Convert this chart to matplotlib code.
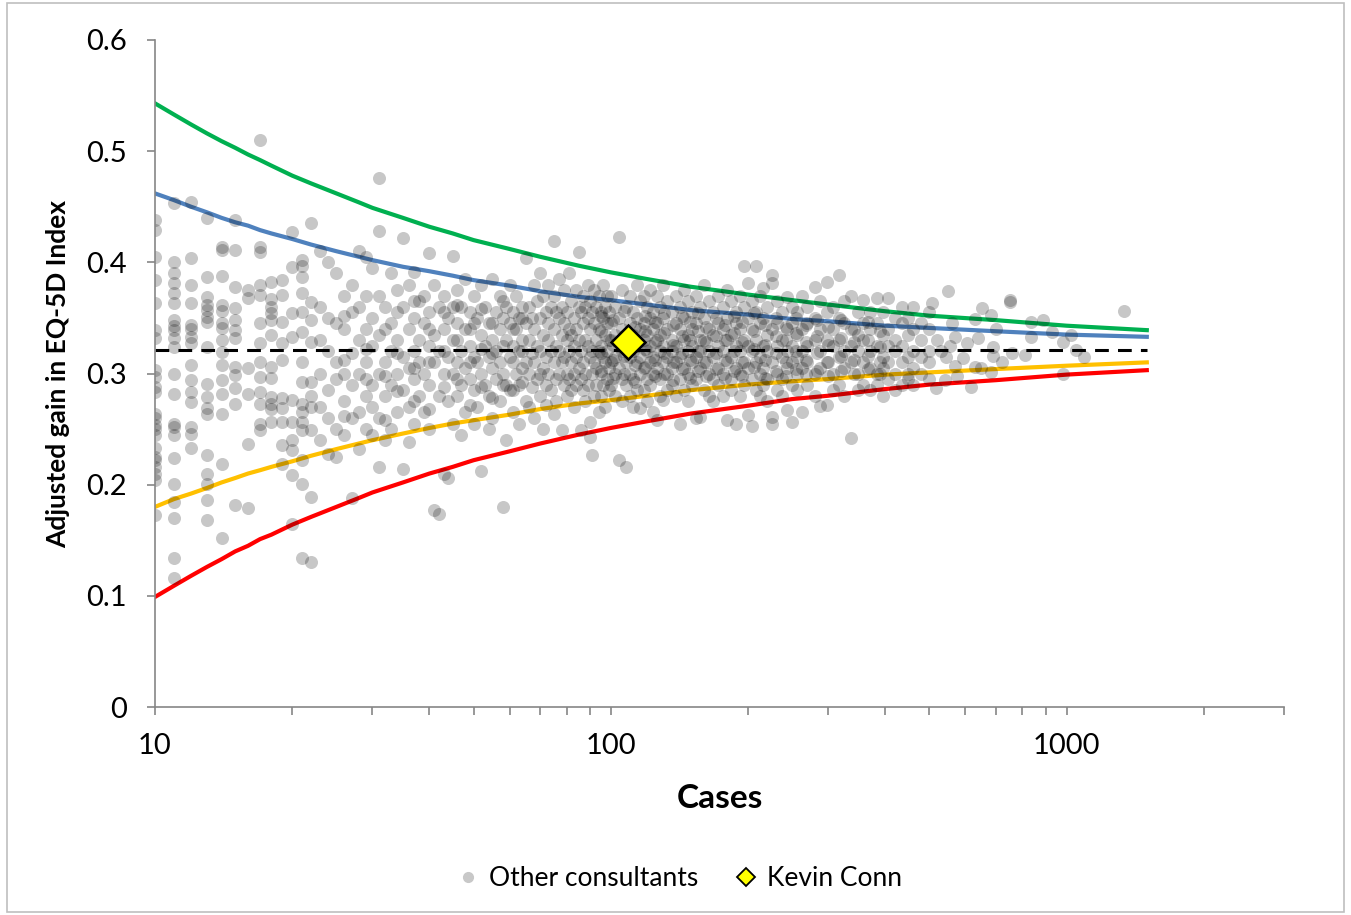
import matplotlib.pyplot as plt
from matplotlib.lines import Line2D
from matplotlib.patches import Rectangle
from matplotlib.ticker import FixedLocator, FixedFormatter, NullFormatter

plt.rcParams['font.family'] = ['Lato', 'DejaVu Sans']

# --- data ---
# small-volume consultants sit in vertical columns (one column per case count)
low_cases = [10, 11, 12, 13, 14, 15, 16, 17, 18, 19, 20, 21, 22]
low_gain = [
    [0.438, 0.429, 0.405, 0.384, 0.363, 0.339, 0.332, 0.303, 0.297, 0.288, 0.283, 0.264,
     0.26, 0.254, 0.25, 0.245, 0.233, 0.225, 0.222, 0.216, 0.21, 0.204, 0.173],
    [0.453, 0.40, 0.39, 0.381, 0.372, 0.363, 0.348, 0.343, 0.339, 0.332, 0.324, 0.3,
     0.282, 0.255, 0.252, 0.245, 0.224, 0.201, 0.184, 0.17, 0.134, 0.116],
    [0.454, 0.404, 0.38, 0.363, 0.344, 0.34, 0.333, 0.327, 0.308, 0.294, 0.283, 0.274,
     0.252, 0.246, 0.233],
    [0.44, 0.387, 0.369, 0.362, 0.357, 0.351, 0.346, 0.324, 0.291, 0.279, 0.269, 0.264,
     0.227, 0.21, 0.201, 0.186, 0.168],
    [0.414, 0.411, 0.388, 0.362, 0.356, 0.345, 0.341, 0.33, 0.319, 0.308, 0.294, 0.282,
     0.264, 0.219, 0.152],
    [0.438, 0.411, 0.378, 0.359, 0.348, 0.339, 0.332, 0.306, 0.299, 0.287, 0.273, 0.182],
    [0.375, 0.368, 0.305, 0.282, 0.237, 0.179],
    [0.51, 0.414, 0.409, 0.38, 0.371, 0.345, 0.327, 0.31, 0.297, 0.283, 0.273, 0.255, 0.249],
    [0.382, 0.367, 0.36, 0.354, 0.348, 0.335, 0.306, 0.296, 0.279, 0.273, 0.268, 0.256],
    [0.384, 0.371, 0.346, 0.327, 0.312, 0.278, 0.269, 0.256, 0.236, 0.219],
    [0.427, 0.396, 0.354, 0.333, 0.276, 0.256, 0.24, 0.231, 0.209, 0.165],
    [0.402, 0.397, 0.387, 0.372, 0.355, 0.337, 0.31, 0.292, 0.273, 0.265, 0.256, 0.249,
     0.222, 0.201, 0.134],
    [0.435, 0.364, 0.348, 0.328, 0.292, 0.28, 0.27, 0.249, 0.189, 0.13],
]

mid_cases = [23, 24, 25, 26, 27, 28, 29, 30, 31, 32, 33, 34, 35, 36, 37, 38, 39, 40, 41, 42,
             43, 44, 45, 46, 47, 48, 49, 50, 51, 52, 53, 54, 55, 56, 57, 58, 59, 60, 61, 62,
             63, 64, 65, 66, 67, 68, 69, 70, 71, 72, 73, 74, 75, 76, 77, 78, 79, 80, 81, 82,
             83, 84, 85, 86, 87, 88, 89, 90, 91, 92, 93, 94, 95, 96, 97, 98, 99]
mid_gain = [
    [0.41, 0.36, 0.33, 0.3, 0.27, 0.24], [0.4, 0.35, 0.32, 0.285, 0.26, 0.228],
    [0.39, 0.345, 0.31, 0.295, 0.25, 0.225], [0.37, 0.34, 0.3, 0.275, 0.245],
    [0.38, 0.355, 0.318, 0.29, 0.26, 0.188], [0.41, 0.36, 0.33, 0.3, 0.265, 0.232],
    [0.405, 0.34, 0.31, 0.28, 0.25], [0.395, 0.35, 0.325, 0.29, 0.27, 0.245],
    [0.476, 0.428, 0.37, 0.335, 0.3, 0.26, 0.216], [0.36, 0.31, 0.28, 0.24],
    [0.39, 0.345, 0.32, 0.29, 0.25], [0.375, 0.33, 0.3, 0.265],
    [0.422, 0.36, 0.315, 0.285, 0.214], [0.38, 0.34, 0.305, 0.27, 0.238],
    [0.391, 0.35, 0.32, 0.295, 0.255], [0.365, 0.33, 0.31, 0.28],
    [0.37, 0.345, 0.3, 0.265], [0.408, 0.355, 0.325, 0.29, 0.25],
    [0.38, 0.335, 0.31, 0.177], [0.36, 0.32, 0.28, 0.174],
    [0.37, 0.34, 0.3, 0.21], [0.35, 0.315, 0.275, 0.206],
    [0.406, 0.36, 0.33, 0.3, 0.255], [0.375, 0.345, 0.31, 0.28],
    [0.36, 0.32, 0.29, 0.245], [0.385, 0.34, 0.305, 0.265],
    [0.355, 0.325, 0.295], [0.37, 0.345, 0.315, 0.285, 0.255],
    [0.35, 0.31, 0.27], [0.38, 0.335, 0.3, 0.212],
    [0.36, 0.325, 0.29], [0.345, 0.315, 0.28, 0.25],
    [0.385, 0.33, 0.305, 0.26], [0.355, 0.32, 0.295],
    [0.37, 0.34, 0.31, 0.275], [0.35, 0.3, 0.18],
    [0.36, 0.33, 0.29, 0.24], [0.38, 0.345, 0.315, 0.285],
    [0.355, 0.325, 0.265], [0.37, 0.34, 0.3],
    [0.35, 0.32, 0.29, 0.255], [0.36, 0.33, 0.305],
    [0.404, 0.345, 0.31, 0.275], [0.36, 0.33, 0.3, 0.27],
    [0.35, 0.318, 0.288], [0.38, 0.34, 0.31, 0.26],
    [0.365, 0.325, 0.295], [0.39, 0.35, 0.32, 0.3, 0.28],
    [0.37, 0.335, 0.305, 0.25], [0.355, 0.315, 0.29, 0.272],
    [0.38, 0.345, 0.33, 0.3], [0.36, 0.32, 0.285],
    [0.419, 0.37, 0.34, 0.31, 0.264], [0.355, 0.325, 0.295, 0.275],
    [0.385, 0.35, 0.32, 0.3], [0.36, 0.335, 0.31, 0.249],
    [0.375, 0.345, 0.315, 0.29], [0.355, 0.33, 0.3, 0.28],
    [0.39, 0.34, 0.32, 0.295], [0.365, 0.335, 0.31, 0.285],
    [0.35, 0.325, 0.3, 0.27], [0.375, 0.34, 0.315, 0.29],
    [0.409, 0.36, 0.33, 0.305], [0.355, 0.32, 0.295, 0.249],
    [0.37, 0.345, 0.31, 0.285], [0.36, 0.33, 0.3, 0.275],
    [0.38, 0.35, 0.325, 0.29], [0.365, 0.34, 0.315, 0.256, 0.243],
    [0.355, 0.32, 0.3, 0.227], [0.375, 0.345, 0.31, 0.28],
    [0.36, 0.33, 0.305, 0.29], [0.37, 0.34, 0.32, 0.265],
    [0.355, 0.325, 0.3, 0.28], [0.38, 0.35, 0.315, 0.29],
    [0.36, 0.335, 0.31, 0.27], [0.37, 0.345, 0.32, 0.295],
    [0.355, 0.33, 0.305, 0.285],
]

# extra points filling the 25-65 case band
band_cases = [26, 29, 32, 34, 37, 40, 43, 46, 49, 52, 55, 58, 61, 64]
band_gain = [
    [0.352, 0.312, 0.262], [0.37, 0.322, 0.295], [0.34, 0.298, 0.258], [0.355, 0.318, 0.284],
    [0.365, 0.305, 0.275], [0.34, 0.31, 0.268], [0.355, 0.32, 0.288], [0.362, 0.33, 0.295],
    [0.34, 0.31, 0.272], [0.358, 0.322, 0.288], [0.345, 0.318, 0.278], [0.365, 0.325, 0.29],
    [0.34, 0.31, 0.285], [0.35, 0.32, 0.292],
]

high_cases = [100, 102, 104, 106, 108, 110, 112, 114, 116, 118, 120, 122, 124, 126, 128, 130,
              133, 136, 139, 142, 145, 148, 151, 154, 157, 160, 164, 168, 172, 176, 180, 184,
              188, 192, 196, 200, 204, 208, 212, 216, 220, 226, 232, 238, 244, 250, 256, 263,
              270, 280, 288, 298, 308, 317, 325, 337, 348, 358, 370, 383, 395, 405, 420, 435,
              450, 460, 480, 500]
high_gain = [
    [0.37, 0.345, 0.33, 0.31, 0.29], [0.36, 0.335, 0.315, 0.3, 0.28],
    [0.423, 0.35, 0.325, 0.305, 0.222], [0.375, 0.34, 0.32, 0.295, 0.275],
    [0.36, 0.33, 0.31, 0.29, 0.216], [0.37, 0.345, 0.315, 0.3, 0.28],
    [0.355, 0.335, 0.32, 0.295, 0.27], [0.38, 0.35, 0.325, 0.31, 0.285],
    [0.365, 0.34, 0.315, 0.3, 0.269], [0.37, 0.345, 0.33, 0.305, 0.285],
    [0.36, 0.335, 0.32, 0.295, 0.275], [0.375, 0.35, 0.325, 0.31, 0.29],
    [0.355, 0.34, 0.315, 0.3, 0.265], [0.37, 0.345, 0.33, 0.305, 0.258],
    [0.36, 0.335, 0.32, 0.295, 0.28], [0.38, 0.35, 0.325, 0.31, 0.276],
    [0.365, 0.34, 0.315, 0.3, 0.285], [0.355, 0.33, 0.32, 0.305, 0.29],
    [0.37, 0.345, 0.325, 0.31, 0.28], [0.36, 0.34, 0.315, 0.295, 0.255],
    [0.375, 0.35, 0.33, 0.305, 0.285], [0.365, 0.335, 0.32, 0.3, 0.275],
    [0.355, 0.34, 0.325, 0.31, 0.29], [0.37, 0.345, 0.315, 0.295, 0.26],
    [0.36, 0.33, 0.32, 0.305, 0.261], [0.38, 0.35, 0.33, 0.31, 0.285],
    [0.365, 0.34, 0.32, 0.3, 0.28], [0.355, 0.335, 0.315, 0.295, 0.275],
    [0.37, 0.345, 0.325, 0.305, 0.29], [0.36, 0.34, 0.32, 0.3, 0.28],
    [0.375, 0.35, 0.33, 0.31, 0.258], [0.365, 0.335, 0.315, 0.295, 0.285],
    [0.355, 0.345, 0.325, 0.305, 0.255], [0.37, 0.34, 0.32, 0.3, 0.28],
    [0.397, 0.36, 0.33, 0.31, 0.29], [0.381, 0.35, 0.325, 0.305, 0.263],
    [0.365, 0.34, 0.32, 0.295, 0.253], [0.397, 0.355, 0.33, 0.31, 0.285],
    [0.37, 0.345, 0.315, 0.3, 0.28], [0.377, 0.35, 0.325, 0.305, 0.29],
    [0.36, 0.335, 0.32, 0.295, 0.275], [0.389, 0.381, 0.34, 0.31, 0.261, 0.255],
    [0.365, 0.345, 0.325, 0.3, 0.285], [0.355, 0.33, 0.315, 0.295, 0.28],
    [0.369, 0.34, 0.32, 0.305, 0.267], [0.36, 0.345, 0.325, 0.31, 0.29, 0.256],
    [0.355, 0.335, 0.315, 0.3, 0.285], [0.37, 0.34, 0.32, 0.305, 0.265],
    [0.36, 0.345, 0.325, 0.31, 0.29], [0.378, 0.35, 0.33, 0.3, 0.28],
    [0.365, 0.34, 0.32, 0.305, 0.271], [0.382, 0.355, 0.33, 0.31, 0.272],
    [0.36, 0.34, 0.325, 0.3, 0.285], [0.389, 0.35, 0.33, 0.315, 0.29],
    [0.365, 0.345, 0.32, 0.305, 0.28], [0.37, 0.34, 0.325, 0.31, 0.242],
    [0.355, 0.335, 0.32, 0.3, 0.285], [0.366, 0.345, 0.33, 0.31, 0.29],
    [0.355, 0.34, 0.32, 0.305, 0.285], [0.368, 0.345, 0.325, 0.3, 0.29],
    [0.355, 0.335, 0.315, 0.305, 0.28], [0.368, 0.34, 0.325, 0.31, 0.295],
    [0.35, 0.33, 0.32, 0.3, 0.285], [0.36, 0.345, 0.325, 0.31, 0.29],
    [0.35, 0.335, 0.315, 0.3, 0.295], [0.36, 0.34, 0.32, 0.305, 0.29],
    [0.345, 0.33, 0.315, 0.3], [0.355, 0.34, 0.32, 0.31, 0.295],
]

# the darkest part of the cloud
core_cases = [95, 101, 107, 113, 119, 125, 131, 137, 143, 149, 155, 162, 170, 178, 186, 194,
              206, 218, 230, 242, 255, 268, 284, 300, 320, 342, 366, 390]
core_gain = [
    [0.352, 0.338, 0.318, 0.302], [0.348, 0.326, 0.312, 0.296], [0.356, 0.334, 0.316, 0.3],
    [0.342, 0.33, 0.308, 0.292], [0.352, 0.338, 0.322, 0.306], [0.346, 0.328, 0.312, 0.298],
    [0.354, 0.336, 0.318, 0.3], [0.344, 0.326, 0.31, 0.294], [0.352, 0.334, 0.318, 0.304],
    [0.346, 0.33, 0.312, 0.296], [0.354, 0.338, 0.32, 0.302], [0.342, 0.328, 0.31, 0.298],
    [0.35, 0.334, 0.318, 0.304], [0.344, 0.33, 0.312, 0.296], [0.352, 0.336, 0.32, 0.302],
    [0.346, 0.328, 0.31, 0.298], [0.354, 0.338, 0.322, 0.306], [0.344, 0.326, 0.312, 0.296],
    [0.35, 0.334, 0.318, 0.302], [0.342, 0.33, 0.31, 0.298], [0.35, 0.336, 0.32, 0.304],
    [0.344, 0.328, 0.312, 0.3], [0.348, 0.334, 0.318, 0.302], [0.342, 0.326, 0.31, 0.298],
    [0.348, 0.332, 0.316, 0.302], [0.34, 0.328, 0.312, 0.3], [0.346, 0.33, 0.316, 0.304],
    [0.338, 0.324, 0.31, 0.3],
]

top_cases = [508, 518, 520, 530, 540, 545, 549, 555, 560, 570, 574, 593, 605, 616, 630, 640,
             650, 652, 683, 688, 700, 720, 750, 760, 810, 836, 890, 930, 980, 1025, 1050,
             1090, 1336]
top_gain = [
    [0.363], [0.287], [0.33], [0.32], [0.294], [0.315], [0.374], [0.325], [0.345],
    [0.333, 0.307], [0.298], [0.314], [0.327], [0.288], [0.349, 0.306], [0.332], [0.305],
    [0.359], [0.353, 0.301], [0.324, 0.316], [0.34], [0.31], [0.364, 0.366], [0.318],
    [0.317], [0.346, 0.333], [0.348], [0.337], [0.328, 0.3], [0.335], [0.321], [0.315],
    [0.356],
]

# highlighted consultant
kc_cases = 109
kc_gain = 0.328

# funnel limits
limit_cases = [10, 11, 12, 13, 14, 15, 16, 17, 18, 20, 22, 25, 28, 30, 35, 40, 45, 50, 60, 70,
               85, 100, 120, 150, 200, 250, 300, 400, 500, 700, 1000, 1500]
upper_998 = [0.543, 0.533, 0.524, 0.516, 0.509, 0.503, 0.497, 0.492, 0.487, 0.478, 0.471,
             0.462, 0.454, 0.449, 0.440, 0.432, 0.426, 0.420, 0.412, 0.405, 0.397, 0.391,
             0.385, 0.378, 0.371, 0.366, 0.362, 0.356, 0.352, 0.348, 0.343, 0.339]
upper_95 = [0.462, 0.456, 0.450, 0.445, 0.440, 0.436, 0.433, 0.429, 0.426, 0.421, 0.416,
            0.410, 0.405, 0.402, 0.396, 0.392, 0.388, 0.384, 0.379, 0.374, 0.369, 0.366,
            0.362, 0.357, 0.353, 0.349, 0.347, 0.343, 0.341, 0.338, 0.335, 0.333]
lower_95 = [0.180, 0.187, 0.192, 0.197, 0.202, 0.206, 0.210, 0.213, 0.216, 0.221, 0.226,
            0.232, 0.237, 0.240, 0.246, 0.251, 0.255, 0.258, 0.263, 0.268, 0.273, 0.276,
            0.280, 0.285, 0.290, 0.293, 0.295, 0.299, 0.301, 0.304, 0.307, 0.310]
lower_998 = [0.099, 0.109, 0.118, 0.126, 0.133, 0.140, 0.145, 0.151, 0.155, 0.164, 0.171,
             0.180, 0.188, 0.193, 0.202, 0.210, 0.216, 0.222, 0.230, 0.237, 0.245, 0.251,
             0.257, 0.264, 0.271, 0.277, 0.280, 0.286, 0.290, 0.294, 0.299, 0.303]
mean_gain = 0.321


def flatten(cases, gains):
    xs, ys = [], []
    for n, g in zip(cases, gains):
        xs += [n] * len(g)
        ys += g
    return xs, ys


all_x, all_y = [], []
for c, g in [(low_cases, low_gain), (mid_cases, mid_gain), (band_cases, band_gain),
             (high_cases, high_gain), (core_cases, core_gain), (top_cases, top_gain)]:
    xs, ys = flatten(c, g)
    all_x += xs
    all_y += ys

fig = plt.figure(figsize=(13.51, 9.15), dpi=100)
ax = fig.add_axes([155 / 1351, 1 - 707 / 915, (1284 - 155) / 1351, (707 - 40) / 915])

# chart border like the spreadsheet export
fig.patches.append(Rectangle((7 / 1351, 3 / 915), 1337 / 1351, 909 / 915, transform=fig.transFigure,
                             fill=False, edgecolor='#bfbfbf', linewidth=1.2))

ax.plot(limit_cases, upper_998, color='#00b050', lw=3, zorder=1)
ax.plot(limit_cases, upper_95, color='#4f81bd', lw=3, zorder=1)
ax.plot(limit_cases, lower_95, color='#ffc000', lw=3, zorder=1)
ax.plot(limit_cases, lower_998, color='#ff0000', lw=3, zorder=1)
ax.plot([limit_cases[0], limit_cases[-1]], [mean_gain, mean_gain], color='black', lw=2.2,
        dashes=(4.5, 3), zorder=1)

ax.scatter(all_x, all_y, s=88, color='black', alpha=0.22, linewidths=0, zorder=2)
ax.plot([kc_cases], [kc_gain], marker='D', ms=17, color='#ffff00', markeredgecolor='black',
        markeredgewidth=1.8, zorder=4, linestyle='none')

ax.set_xscale('log')
ax.set_xlim(10, 3000)
ax.set_ylim(0, 0.6)
ax.xaxis.set_major_locator(FixedLocator([10, 100, 1000]))
ax.xaxis.set_major_formatter(FixedFormatter(['10', '100', '1000']))
ax.xaxis.set_minor_locator(FixedLocator([20, 30, 40, 50, 60, 70, 80, 90, 200, 300, 400, 500,
                                         600, 700, 800, 900, 2000, 3000]))
ax.xaxis.set_minor_formatter(NullFormatter())
ax.set_yticks([0, 0.1, 0.2, 0.3, 0.4, 0.5, 0.6])
ax.set_yticklabels(['0', '0.1', '0.2', '0.3', '0.4', '0.5', '0.6'])

for s in ['top', 'right']:
    ax.spines[s].set_visible(False)
for s in ['left', 'bottom']:
    ax.spines[s].set_color('#868686')
    ax.spines[s].set_linewidth(1.2)
ax.tick_params(axis='both', which='both', direction='out', length=6, width=1.2,
               color='#868686', labelsize=21)
ax.tick_params(axis='x', which='major', pad=13)
ax.tick_params(axis='y', which='major', pad=14)

ax.set_xlabel('Cases', fontsize=24, fontweight='bold', labelpad=18)
ax.set_ylabel('Adjusted gain in EQ-5D Index', fontsize=19, fontweight='bold', labelpad=12)

handles = [
    Line2D([], [], marker='o', ms=7, color='#c8c8c8', linestyle='none'),
    Line2D([], [], marker='D', ms=9, color='#ffff00', markeredgecolor='black',
           markeredgewidth=1.3, linestyle='none'),
]
fig.legend(handles, ['Other consultants', 'Kevin Conn'], loc='center',
           bbox_to_anchor=(680 / 1351, 1 - 879 / 915), ncol=2, frameon=False, fontsize=19,
           handlelength=0.8, handletextpad=0.4, columnspacing=1.4)

fig.savefig('out.png', dpi=100)
